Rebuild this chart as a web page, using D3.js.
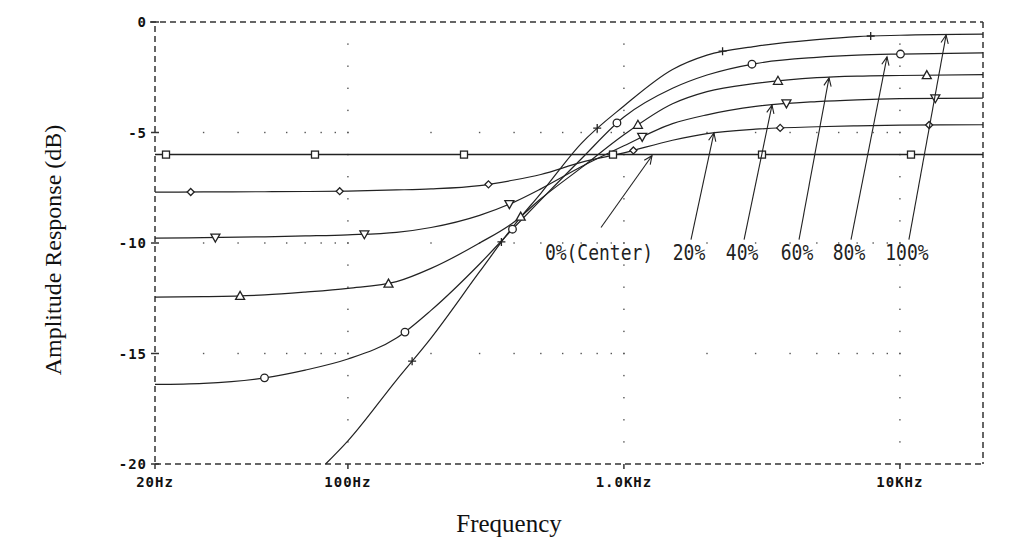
<!DOCTYPE html>
<html><head><meta charset="utf-8">
<script src="https://cdn.jsdelivr.net/npm/d3@7"></script>
<style>body{margin:0;background:#fff;} svg{display:block}</style>
</head><body><svg id="chart" width="1024" height="550"></svg>
<script>
// ---------- data ----------
const freqs = [20, 30, 50, 70, 100, 150, 200, 300, 400, 500, 700, 1000, 1500, 2000, 3000, 5000, 7000, 10000, 20000];
const resp0   = [-6,-6,-6,-6,-6,-6,-6,-6,-6,-6,-6,-6,-6,-6,-6,-6,-6,-6,-6];
const resp20  = [-7.70,-7.69,-7.68,-7.67,-7.65,-7.60,-7.55,-7.40,-7.15,-6.90,-6.35,-5.92,-5.35,-5.05,-4.85,-4.74,-4.70,-4.67,-4.65];
const resp40  = [-9.78,-9.76,-9.72,-9.68,-9.63,-9.52,-9.30,-8.75,-8.15,-7.55,-6.55,-5.60,-4.60,-4.20,-3.82,-3.60,-3.52,-3.47,-3.44];
const resp60  = [-12.45,-12.43,-12.35,-12.22,-12.05,-11.75,-11.15,-10.00,-9.05,-8.00,-6.60,-5.10,-3.70,-3.15,-2.78,-2.52,-2.45,-2.42,-2.38];
const resp80  = [-16.40,-16.35,-16.10,-15.75,-15.25,-14.30,-13.05,-10.95,-9.30,-8.05,-6.20,-4.30,-3.00,-2.40,-1.88,-1.60,-1.50,-1.45,-1.40];
const freqs100 = [83, 100, 150, 200, 300, 400, 500, 700, 1000, 1500, 2000, 3000, 5000, 7000, 10000, 20000];
const resp100 = [-20.0,-18.95,-16.20,-14.30,-11.30,-9.20,-7.75,-5.50,-3.80,-2.15,-1.50,-1.10,-0.80,-0.66,-0.60,-0.55];

const seriesLabels = ["0%(Center)", "20%", "40%", "60%", "80%", "100%"];
const markerTypes  = ["square", "diamond", "triDown", "triUp", "circle", "plus"];

const xTickValues = [20, 100, 1000, 10000];
const xTickLabels = ["20Hz", "100Hz", "1.0KHz", "10KHz"];
const yTickValues = [0, -5, -10, -15, -20];
const yTickLabels = ["0", "-5", "-10", "-15", "-20"];

// annotation arrows (tip on curve, tail at label)
const arrowTipFreq  = [1264, 2119, 3440, 5535, 8978, 14700];
const arrowTipDb    = [-6.05, -5.02, -3.76, -2.53, -1.58, -0.59];
const arrowTailFreq = [826, 1750, 2725, 4310, 6650, 10780];
const arrowTailDb   = [-9.3, -9.85, -9.85, -9.85, -9.85, -9.85];

const xTitle = "Frequency";
const yTitle = "Amplitude Response (dB)";

// ---------- layout ----------
const svg = d3.select("#chart");
const x = d3.scaleLog().domain([20, 20000]).range([155, 983]);
const y = d3.scaleLinear().domain([-20, 0]).range([464, 22]);
const ink = "#222";

// grid dots
const gridG = svg.append("g").attr("fill", "#555");
const minorFreqs = [];
[10, 100, 1000, 10000].forEach(d => { for (let m = 1; m <= 9; m++) { const f = m * d; if (f > 20 && f < 20000) minorFreqs.push(f); } });
[-5, -10, -15].forEach(db => {
  minorFreqs.forEach(f => gridG.append("rect").attr("x", x(f) - 0.7).attr("y", y(db) - 0.7).attr("width", 1.4).attr("height", 1.4));
});
[100, 1000, 10000].forEach(f => {
  d3.range(-19, 0).forEach(db => gridG.append("rect").attr("x", x(f) - 0.7).attr("y", y(db) - 0.7).attr("width", 1.4).attr("height", 1.4));
});

// frame (dashed)
const frame = svg.append("g").attr("stroke", "#333").attr("stroke-width", 1.5).attr("stroke-dasharray", "6,4").attr("fill", "none");
frame.append("line").attr("x1", x(20) - 5).attr("x2", x(20000)).attr("y1", y(0)).attr("y2", y(0));
frame.append("line").attr("x1", x(20)).attr("x2", x(20000)).attr("y1", y(-20)).attr("y2", y(-20));
frame.append("line").attr("x1", x(20)).attr("x2", x(20)).attr("y1", y(0) + 4).attr("y2", y(-20));
frame.append("line").attr("x1", x(20000)).attr("x2", x(20000)).attr("y1", y(0)).attr("y2", y(-20));

// ticks
const tickG = svg.append("g").attr("stroke", "#333").attr("stroke-width", 1.5);
yTickValues.forEach(v => tickG.append("line").attr("x1", x(20) - 4).attr("x2", x(20) + 4).attr("y1", y(v)).attr("y2", y(v)));
xTickValues.forEach(v => tickG.append("line").attr("x1", x(v)).attr("x2", x(v)).attr("y1", y(-20)).attr("y2", y(-20) + 5));

// tick labels
const tickFont = "'DejaVu Sans Mono', monospace";
svg.append("g").selectAll("text").data(xTickValues).join("text")
  .attr("x", d => x(d)).attr("y", 487).attr("text-anchor", "middle")
  .attr("font-family", tickFont).attr("font-weight", "bold").attr("font-size", 14).attr("letter-spacing", 1)
  .attr("fill", "#111").text((d, i) => xTickLabels[i]);
svg.append("g").selectAll("text").data(yTickValues).join("text")
  .attr("x", 147).attr("y", d => y(d) + 5).attr("text-anchor", "end")
  .attr("font-family", tickFont).attr("font-weight", "bold").attr("font-size", 14).attr("letter-spacing", 1)
  .attr("fill", "#111").text((d, i) => yTickLabels[i]);

// axis titles
svg.append("text").attr("x", 509).attr("y", 532).attr("text-anchor", "middle")
  .attr("font-family", "'Liberation Serif', 'Times New Roman', serif").attr("font-size", 25).attr("fill", "#111").text(xTitle);
svg.append("text").attr("transform", "translate(61,250) rotate(-90)").attr("text-anchor", "middle")
  .attr("font-family", "'Liberation Serif', 'Times New Roman', serif").attr("font-size", 24).attr("fill", "#111").text(yTitle);

// curves
const series = [
  { f: freqs, v: resp0 }, { f: freqs, v: resp20 }, { f: freqs, v: resp40 },
  { f: freqs, v: resp60 }, { f: freqs, v: resp80 }, { f: freqs100, v: resp100 }
];
const line = d3.line().x(d => x(d[0])).y(d => y(d[1])).curve(d3.curveMonotoneX);
const curveG = svg.append("g");
const markG = svg.append("g");

function drawMarker(px, py, type) {
  const m = markG.append("g").attr("transform", `translate(${px},${py})`)
    .attr("stroke", ink).attr("stroke-width", 1.3).attr("fill", "#fff");
  if (type === "square") m.append("rect").attr("x", -3.5).attr("y", -3.5).attr("width", 7).attr("height", 7);
  else if (type === "circle") m.append("circle").attr("r", 3.8);
  else if (type === "diamond") m.append("path").attr("d", "M0,-3.5L3.5,0L0,3.5L-3.5,0Z");
  else if (type === "triUp") m.append("path").attr("d", "M0,-4.5L4.5,3.5L-4.5,3.5Z");
  else if (type === "triDown") m.append("path").attr("d", "M0,4.5L4.5,-3.5L-4.5,-3.5Z");
  else if (type === "plus") m.append("path").attr("fill", "none").attr("d", "M-4,0H4M0,-4V4");
}

series.forEach((s, i) => {
  const pts = s.f.map((f, k) => [f, s.v[k]]);
  const p = curveG.append("path").attr("d", line(pts)).attr("fill", "none")
    .attr("stroke", ink).attr("stroke-width", i === 0 ? 1.5 : 1.2);
  const node = p.node();
  const L = node.getTotalLength();
  for (let d = 11 + 24.7 * i; d <= L; d += 149) {
    const q = node.getPointAtLength(d);
    drawMarker(q.x, q.y, markerTypes[i]);
  }
});

// annotations
const annG = svg.append("g");
seriesLabels.forEach((lab, i) => {
  const x1 = x(arrowTailFreq[i]), y1 = y(arrowTailDb[i]);
  const x2 = x(arrowTipFreq[i]), y2 = y(arrowTipDb[i]);
  annG.append("line").attr("x1", x1).attr("y1", y1).attr("x2", x2).attr("y2", y2)
    .attr("stroke", ink).attr("stroke-width", 1.1);
  const ang = Math.atan2(y1 - y2, x1 - x2);
  const a = 0.42, len = 9;
  annG.append("path").attr("fill", "none").attr("stroke", ink).attr("stroke-width", 1.1)
    .attr("d", `M${x2 + len * Math.cos(ang + a)},${y2 + len * Math.sin(ang + a)}L${x2},${y2}L${x2 + len * Math.cos(ang - a)},${y2 + len * Math.sin(ang - a)}`);
  annG.append("g").attr("transform", `translate(${x1 - 2},260) scale(1,1.15)`)
    .append("text").attr("text-anchor", "middle")
    .attr("font-family", "'DejaVu Sans Mono', monospace").attr("font-size", 18)
    .attr("fill", "#222").text(lab);
});
</script></body></html>
